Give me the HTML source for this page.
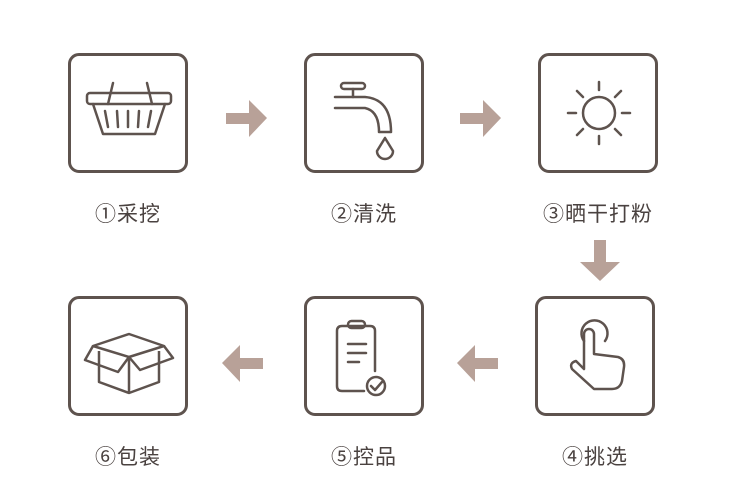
<!DOCTYPE html>
<html><head><meta charset="utf-8"><style>
body{margin:0;width:750px;height:498px;background:#fff;overflow:hidden;position:relative;font-family:"Liberation Sans","Noto Sans CJK SC",sans-serif}
.b{position:absolute;width:114px;height:114px;border:3px solid #5e534e;border-radius:11px}
.b svg{position:absolute;left:0;top:0}
.l{position:absolute;width:160px;text-align:center;font-size:21px;color:#4a4240;letter-spacing:1px}
</style></head><body>
<svg width="750" height="498" style="position:absolute;left:0;top:0" fill="#b8a198">
<polygon points="226,113 249,113 249,100 267,118 249,137 249,124 226,124"/>
<polygon points="460,113 483,113 483,100 501,118 483,137 483,124 460,124"/>
<polygon points="594,240 606,240 606,262 620,262 600,281 580,262 594,262"/>
<polygon points="263,358 240,358 240,345 222,363 240,382 240,369 263,369"/>
<polygon points="498,358 475,358 475,345 457,363 475,382 475,369 498,369"/>
</svg>
<div class="b" style="left:68px;top:53px"><svg width="114" height="114" fill="none" stroke="#5e534e" stroke-width="2.5" stroke-linecap="round" stroke-linejoin="round">
<rect x="16" y="37" width="84" height="11" rx="3"/><path d="M42,27 L37,48 M76,27 L81,48"/><path d="M22,48 L32,78 L84,78 L94,48"/><path d="M34,55 L37,71 M46,55 L47,71 M57,55 L57,71 M68,55 L67,71 M80,55 L77,71"/></svg></div>
<div class="b" style="left:304px;top:53px"><svg width="114" height="114" fill="none" stroke="#5e534e" stroke-width="2.5" stroke-linecap="round" stroke-linejoin="round">
<rect x="34" y="27" width="24" height="6" rx="3"/><path d="M46,33 V41"/><path d="M28,41 H58 Q84,43 84,76 H72 Q72,55 58,52 H28"/><path d="M78,82 L70,95 A8,8 0 1 0 86,95 Z"/></svg></div>
<div class="b" style="left:538px;top:53px"><svg width="114" height="114" fill="none" stroke="#5e534e" stroke-width="2.5" stroke-linecap="round">
<circle cx="58" cy="57" r="16"/><path d="M58,26 V34 M58,80 V88 M27,57 H35 M81,57 H89 M36,35 L42,41 M74,73 L80,79 M80,35 L74,41 M42,73 L36,79"/></svg></div>
<div class="b" style="left:535px;top:296px"><svg width="114" height="114" fill="none" stroke="#5e534e" stroke-width="2.5" stroke-linecap="round" stroke-linejoin="round">
<path d="M46,42 A13,13 0 1 1 67,42"/><path d="M46,70 V35 A5,5 0 0 1 56,35 V55 L80,58 Q87,60 86,68 L84,82 Q82,90 74,90 H56 L34,70 Q31,64 38,62 Z"/></svg></div>
<div class="b" style="left:304px;top:296px"><svg width="114" height="114" fill="none" stroke="#5e534e" stroke-width="2.5" stroke-linecap="round" stroke-linejoin="round">
<path d="M68,72 V32 Q68,27 63,27 H35 Q30,27 30,32 V87 Q30,92 35,92 H57"/><rect x="41" y="22" width="17" height="7" rx="3.5"/><path d="M41,45 H59 M41,54 H59 M41,63 H52"/><circle cx="69" cy="87" r="9"/><path d="M64,87 L68,91 L75,83"/></svg></div>
<div class="b" style="left:68px;top:296px"><svg width="114" height="114" fill="none" stroke="#5e534e" stroke-width="2.5" stroke-linejoin="round">
<path d="M22,47 L58,35 L93,47 L58,58 Z"/><path d="M28,52 V83 L58,94 L88,83 V52"/><path d="M58,58 V94"/><path d="M22,47 L14,61 L47,73 L58,58 M93,47 L102,59 L69,71 L58,58"/></svg></div>
<div class="l" style="left:48px;top:198px">①采挖</div>
<div class="l" style="left:284px;top:198px">②清洗</div>
<div class="l" style="left:518px;top:198px">③晒干打粉</div>
<div class="l" style="left:515px;top:441px">④挑选</div>
<div class="l" style="left:284px;top:441px">⑤控品</div>
<div class="l" style="left:48px;top:441px">⑥包装</div>
</body></html>
